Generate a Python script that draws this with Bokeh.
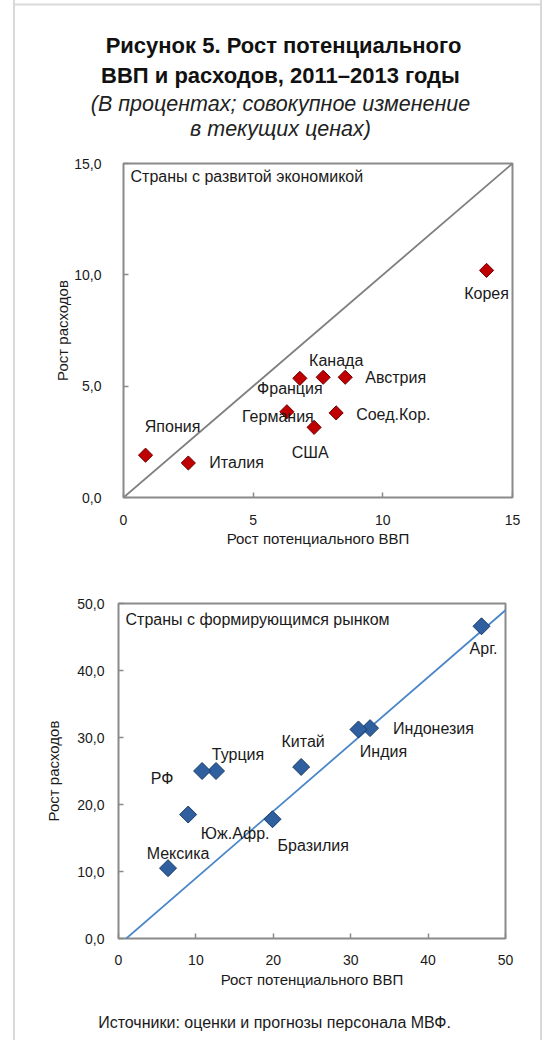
from bokeh.plotting import figure
from bokeh.models import Range1d, FixedTicker, ColumnDataSource
from bokeh.core.properties import value
from bokeh.embed import file_html
from bokeh.resources import INLINE

# ---------------- data ----------------
title_lines = ["Рисунок 5. Рост потенциального", "ВВП и расходов, 2011–2013  годы"]
subtitle_lines = ["(В процентах; совокупное изменение", "в текущих ценах)"]
source_text = "Источники: оценки и прогнозы персонала МВФ."
x_axis_title = "Рост потенциального ВВП"
y_axis_title = "Рост расходов"

adv_label = "Страны с развитой экономикой"
adv_names = ["Корея", "Япония", "Италия", "Франция", "Канада", "Австрия", "Германия", "Соед.Кор.", "США"]
adv_gdp = [14.0, 0.85, 2.5, 6.8, 7.7, 8.55, 6.3, 8.2, 7.35]
adv_exp = [10.2, 1.9, 1.55, 5.35, 5.4, 5.4, 3.85, 3.8, 3.15]
adv_xticks = [0, 5, 10, 15]
adv_xtick_labels = ["0", "5", "10", "15"]
adv_yticks = [0, 5, 10, 15]
adv_ytick_labels = ["0,0", "5,0", "10,0", "15,0"]
adv_diag_x = [0, 15]
adv_diag_y = [0, 15]

em_label = "Страны с формирующимся рынком"
em_names = ["Арг.", "Индонезия", "Индия", "Китай", "Турция", "РФ", "Юж.Афр.", "Бразилия", "Мексика"]
em_gdp = [46.9, 32.5, 31.0, 23.6, 12.6, 10.8, 9.0, 19.9, 6.4]
em_exp = [46.6, 31.4, 31.2, 25.6, 25.0, 25.0, 18.5, 17.8, 10.5]
em_xticks = [0, 10, 20, 30, 40, 50]
em_xtick_labels = ["0", "10", "20", "30", "40", "50"]
em_yticks = [0, 10, 20, 30, 40, 50]
em_ytick_labels = ["0,0", "10,0", "20,0", "30,0", "40,0", "50,0"]
em_diag_x = [0.5, 50.5]
em_diag_y = [-0.5, 49.5]

# label placement (screen px offsets, y down) -- layout only
adv_dx = [0, 27, 21, -10, 13, 20, -9, 20, -4]
adv_dy = [23, -29, 0, 10, -17, 0, 5, 2, 25]
adv_align = ["center", "center", "left", "center", "center", "left", "center", "left", "center"]
em_dx = [2, 23, 25, 2, 22, -40, 47, 5, 10]
em_dy = [22, 0, 22, -25, -17, 7, 19, 26, -15]
em_align = ["center", "left", "center", "center", "center", "center", "center", "left", "center"]

FONT = "Liberation Sans"
W = 545
GRAY = "#8a8a8a"
TXT = "#1a1a1a"
EDGE = "#d9d9d9"
GRAD = (f"linear-gradient(to right, transparent 13px, {EDGE} 13px, {EDGE} 15px, transparent 15px, "
        f"transparent 540px, {EDGE} 540px, {EDGE} 542px, transparent 542px)")
SHEET = [f":host {{ background-image: {GRAD}; }}"]


def bare(height, yr):
    f = figure(width=W, height=height, x_range=Range1d(0, W), y_range=Range1d(yr, 0),
               output_backend="svg", toolbar_location=None, min_border=0,
               x_axis_location=None, y_axis_location=None, outline_line_color=None,
               border_fill_color=None, background_fill_color=None, stylesheets=SHEET)
    f.grid.visible = False
    return f


# ---------------- title figure ----------------
tf = bare(140, 140)
tf.line(x=[14, 541], y=[4, 4], line_color=EDGE, line_width=2)
tf.text(x=[283, 283], y=[45, 75], text=title_lines, text_font=value(FONT),
        text_font_size="22px", text_font_style="bold", text_align="center",
        text_baseline="middle", text_color="#111111")
tf.text(x=[280, 280], y=[103, 128], text=subtitle_lines, text_font=value(FONT),
        text_font_size="21.5px", text_font_style="italic", text_align="center",
        text_baseline="middle", text_color="#222222")


def style_panel(p, xticks, xlabels, yticks, ylabels):
    p.grid.visible = False
    p.outline_line_color = GRAY
    p.outline_line_width = 2
    for ax in (p.xaxis[0], p.yaxis[0]):
        ax.axis_line_color = None
        ax.major_tick_line_color = GRAY
        ax.major_tick_line_width = 1.5
        ax.major_tick_in = 5
        ax.major_tick_out = 0
        ax.minor_tick_line_color = None
        ax.major_label_text_font = FONT
        ax.major_label_text_font_size = "14px"
        ax.major_label_text_color = TXT
        ax.axis_label_text_font = FONT
        ax.axis_label_text_font_size = "15px"
        ax.axis_label_text_font_style = "normal"
        ax.axis_label_text_color = TXT
    p.xaxis[0].ticker = FixedTicker(ticks=xticks)
    p.xaxis[0].major_label_overrides = {t: l for t, l in zip(xticks, xlabels)}
    p.yaxis[0].ticker = FixedTicker(ticks=yticks)
    p.yaxis[0].major_label_overrides = {t: l for t, l in zip(yticks, ylabels)}
    p.xaxis[0].axis_label = x_axis_title
    p.yaxis[0].axis_label = y_axis_title


# ---------------- advanced economies ----------------
p1 = figure(width=W, height=420, x_range=Range1d(0, 15), y_range=Range1d(0, 15),
            output_backend="svg", toolbar_location=None,
            min_border_left=123, min_border_right=33, min_border_top=23, min_border_bottom=63,
            border_fill_color=None, stylesheets=SHEET)
style_panel(p1, adv_xticks, adv_xtick_labels, adv_yticks, adv_ytick_labels)
p1.xaxis[0].major_label_standoff = 17
p1.yaxis[0].major_label_standoff = 22
p1.xaxis[0].axis_label_standoff = 2
p1.yaxis[0].axis_label_standoff = 0
p1.line(adv_diag_x, adv_diag_y, line_color="#7f7f7f", line_width=1.8)
s1 = ColumnDataSource(dict(x=adv_gdp, y=adv_exp, name=adv_names, dx=adv_dx, dy=adv_dy, al=adv_align))
p1.scatter("x", "y", source=s1, marker="square", angle=0.7853981634, size=10,
           fill_color="#C00000", line_color="#6a0000", line_width=1)
p1.text("x", "y", text="name", source=s1, x_offset="dx", y_offset="dy", text_align="al",
        text_baseline="middle", text_font=value(FONT), text_font_size="16px", text_color=TXT)
p1.text(x=[0], y=[15], text=[adv_label], x_offset=7, y_offset=13, text_align="left",
        text_baseline="middle", text_font=value(FONT), text_font_size="16px", text_color=TXT)

# ---------------- emerging markets ----------------
p2 = figure(width=W, height=440, x_range=Range1d(0, 50), y_range=Range1d(0, 50),
            output_backend="svg", toolbar_location=None,
            min_border_left=118, min_border_right=40, min_border_top=43, min_border_bottom=62,
            border_fill_color=None, stylesheets=SHEET)
style_panel(p2, em_xticks, em_xtick_labels, em_yticks, em_ytick_labels)
p2.xaxis[0].major_label_standoff = 16
p2.yaxis[0].major_label_standoff = 14
p2.xaxis[0].axis_label_standoff = 3
p2.yaxis[0].axis_label_standoff = 12
p2.line(em_diag_x, em_diag_y, line_color="#4a86c8", line_width=1.8)
s2 = ColumnDataSource(dict(x=em_gdp, y=em_exp, name=em_names, dx=em_dx, dy=em_dy, al=em_align))
p2.scatter("x", "y", source=s2, marker="square", angle=0.7853981634, size=12,
           fill_color="#2f5f9e", line_color="#1b3a66", line_width=1)
p2.text("x", "y", text="name", source=s2, x_offset="dx", y_offset="dy", text_align="al",
        text_baseline="middle", text_font=value(FONT), text_font_size="16px", text_color=TXT)
p2.text(x=[0], y=[50], text=[em_label], x_offset=7, y_offset=16, text_align="left",
        text_baseline="middle", text_font=value(FONT), text_font_size="16px", text_color=TXT)

# ---------------- source ----------------
sf = bare(40, 40)
sf.text(x=[274], y=[22], text=[source_text], text_font=value(FONT), text_font_size="16px",
        text_align="center", text_baseline="middle", text_color=TXT)

open("out.html", "w").write(file_html([tf, p1, p2, sf], INLINE))
